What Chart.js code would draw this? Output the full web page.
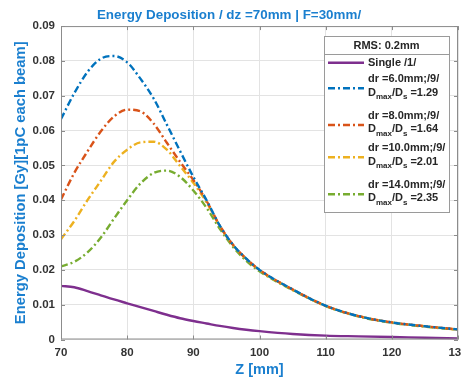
<!DOCTYPE html>
<html>
<head>
<meta charset="utf-8">
<script src="https://cdn.jsdelivr.net/npm/chart.js@4.4.1/dist/chart.umd.min.js"></script>
<style>
html,body{margin:0;padding:0;background:#fff;overflow:hidden;}
#wrap{width:461px;height:379px;position:relative;}
</style>
</head>
<body>
<div id="wrap"><canvas id="c" width="461" height="379"></canvas></div>
<script>
// ---- data ----
const zValues = [70,72,74,76,78,80,82,84,86,88,90,92,94,96,98,100,105,110,115,120,125,130];
const singleVals = [0.0154,0.0150,0.0139,0.0127,0.0115,0.0104,0.0093,0.0082,0.0071,0.0061,0.0053,0.0046,0.0039,0.0033,0.0028,0.0024,0.0016,0.0011,0.0009,0.0007,0.0005,0.0003];
const dr6Vals  = [0.0633,0.0707,0.0768,0.0806,0.0814,0.0796,0.0749,0.0692,0.0617,0.0541,0.0467,0.0400,0.0327,0.0272,0.0232,0.0200,0.0144,0.0097,0.0067,0.0049,0.0038,0.0029];
const dr8Vals  = [0.0402,0.0478,0.0540,0.0597,0.0640,0.0660,0.0655,0.0620,0.0565,0.0510,0.0458,0.0398,0.0327,0.0272,0.0232,0.0200,0.0144,0.0097,0.0067,0.0049,0.0038,0.0029];
const dr10Vals = [0.0288,0.0340,0.0400,0.0455,0.0510,0.0545,0.0566,0.0568,0.0545,0.0498,0.0450,0.0394,0.0325,0.0271,0.0231,0.0199,0.0143,0.0097,0.0067,0.0049,0.0038,0.0028];
const dr14Vals = [0.0210,0.0223,0.0250,0.0292,0.0347,0.0400,0.0448,0.0478,0.0485,0.0467,0.0428,0.0378,0.0318,0.0266,0.0226,0.0196,0.0142,0.0096,0.0066,0.0048,0.0037,0.0028];
const seriesNames = ["Single /1/","dr =6.0mm;/9/","dr =8.0mm;/9/","dr =10.0mm;/9/","dr =14.0mm;/9/"];
const ratioLabels = [null,"=1.29","=1.64","=2.01","=2.35"];
const xTicks = [70,80,90,100,110,120,130];
const yTicks = [0,0.01,0.02,0.03,0.04,0.05,0.06,0.07,0.08,0.09];
const titleText = "Energy Deposition / dz =70mm | F=30mm/";
const legendTitle = "RMS: 0.2mm";

const colors = ["#7E2F8E","#0072BD","#D95319","#EDB120","#77AC30"];
const dashes = [[],[7,3,2,3],[7,3,2,3],[7,3,2,3],[7,3,2,3]];
const allVals = [singleVals,dr6Vals,dr8Vals,dr10Vals,dr14Vals];
const textBlue = "#1a7fcf";
const tickCol = "#333333";
const FONT = "'Liberation Sans', Arial, sans-serif";

const datasets = allVals.map((vals,i)=>({
  label: seriesNames[i],
  data: zValues.map((z,k)=>({x:z,y:vals[k]})),
  borderColor: colors[i],
  borderWidth: 2.4,
  borderDash: dashes[i],
  pointRadius: 0,
  fill: false,
  cubicInterpolationMode: 'monotone'
}));

const boxPlugin = {
  id:'boxPlugin',
  afterDraw(chart){
    const ctx = chart.ctx, a = chart.chartArea;
    const xs = chart.scales.x, ys = chart.scales.y;
    ctx.save();
    ctx.strokeStyle = "#8c8c8c";
    ctx.lineWidth = 1;
    ctx.strokeRect(a.left+0.5, a.top+0.5, a.right-a.left-1, a.bottom-a.top-1);
    ctx.beginPath();
    xTicks.forEach(v=>{const p=Math.round(xs.getPixelForValue(v))+0.5;
      ctx.moveTo(p,a.bottom);ctx.lineTo(p,a.bottom-4);ctx.moveTo(p,a.top);ctx.lineTo(p,a.top+4);});
    yTicks.forEach(v=>{const p=Math.round(ys.getPixelForValue(v))+0.5;
      ctx.moveTo(a.left,p);ctx.lineTo(a.left+4,p);ctx.moveTo(a.right,p);ctx.lineTo(a.right-4,p);});
    ctx.stroke();

    // legend
    const L=324, T=36, R=449, B=212;
    ctx.fillStyle="#fff";
    ctx.fillRect(L,T,R-L,B-T);
    ctx.strokeStyle="#9a9a9a";
    ctx.strokeRect(L+0.5,T+0.5,R-L,B-T);
    ctx.beginPath();ctx.moveTo(L,54.5);ctx.lineTo(R,54.5);ctx.stroke();
    ctx.fillStyle="#262626";
    ctx.textBaseline="middle";
    ctx.font="bold 11px "+FONT;
    ctx.textAlign="center";
    ctx.fillText(legendTitle,(L+R)/2,45.5);
    ctx.textAlign="left";
    const lineY=[62.7,88.3,125,157.3,194.3];
    const t1Y=[63.3,79.3,116,148.3,185];
    const t2Y=[null,92.7,129.3,161.7,198.3];
    for(let i=0;i<5;i++){
      ctx.save();
      ctx.strokeStyle=colors[i];ctx.lineWidth=2.4;ctx.setLineDash(dashes[i]);
      ctx.beginPath();ctx.moveTo(328,lineY[i]);ctx.lineTo(364,lineY[i]);ctx.stroke();
      ctx.restore();
      ctx.fillStyle="#262626";
      ctx.font="bold 11px "+FONT;
      ctx.fillText(seriesNames[i],368,t1Y[i]);
      if(t2Y[i]!==null){
        let x=368; const y=t2Y[i];
        ctx.font="bold 11px "+FONT;
        ctx.fillText("D",x,y); x+=ctx.measureText("D").width;
        ctx.font="bold 8px "+FONT;
        ctx.fillText("max",x,y+4); x+=ctx.measureText("max").width;
        ctx.font="bold 11px "+FONT;
        ctx.fillText("/D",x,y); x+=ctx.measureText("/D").width;
        ctx.font="bold 8px "+FONT;
        ctx.fillText("s",x,y+4); x+=ctx.measureText("s").width+3;
        ctx.font="bold 11px "+FONT;
        ctx.fillText(ratioLabels[i],x,y);
      }
    }
    ctx.restore();
  }
};

new Chart(document.getElementById('c'),{
  type:'line',
  data:{datasets},
  plugins:[boxPlugin],
  options:{
    responsive:false,
    animation:false,
    layout:{padding:{left:0,right:3,top:0,bottom:0}},
    plugins:{
      legend:{display:false},
      tooltip:{enabled:false},
      title:{display:true,text:titleText,color:textBlue,
        font:{family:FONT,size:13.4,weight:'bold'},padding:{top:7,bottom:3}}
    },
    scales:{
      x:{type:'linear',min:70,max:130,
        afterBuildTicks(s){s.ticks=xTicks.map(v=>({value:v}));},
        afterFit(s){s.paddingRight=0;s.height=39.5;},
        grid:{color:"#e3e3e3",drawTicks:false},
        border:{display:false},
        ticks:{color:tickCol,padding:6,maxRotation:0,autoSkip:false,
          font:{family:FONT,size:11.5,weight:'bold'}},
        title:{display:true,text:"Z [mm]",color:textBlue,
          font:{family:FONT,size:14.5,weight:'bold'},padding:{top:0,bottom:0}}
      },
      y:{min:0,max:0.09,
        afterBuildTicks(s){s.ticks=yTicks.map(v=>({value:v}));},
        afterFit(s){s.width=61;},
        grid:{color:"#e3e3e3",drawTicks:false},
        border:{display:false},
        ticks:{color:tickCol,padding:6,autoSkip:false,
          callback:(v)=> v===0?"0":v.toFixed(2),
          font:{family:FONT,size:11.5,weight:'bold'}},
        title:{display:true,text:"Energy Deposition [Gy][1pC each beam]",color:textBlue,
          font:{family:FONT,size:14.8,weight:'bold'},padding:{top:12,bottom:0}}
      }
    }
  }
});
</script>
</body>
</html>
